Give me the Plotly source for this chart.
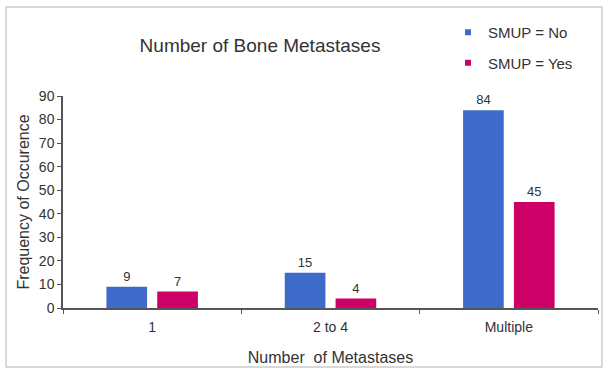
import plotly.graph_objects as go

categories = ["1", "2 to 4", "Multiple"]
smup_no = [9, 15, 84]
smup_yes = [7, 4, 45]
series_names = ["SMUP = No", "SMUP = Yes"]
colors = ["#3E6BC9", "#CC0066"]

W, H = 607, 370
L, R, T, B = 63, 9, 96, 62
pw, ph = W - L - R, H - T - B

def px(x):
    return (x - L) / pw

def py(y):
    return (H - B - y) / ph

fig = go.Figure()
for i, (name, vals) in enumerate(zip(series_names, [smup_no, smup_yes])):
    fig.add_trace(go.Bar(
        x=categories, y=vals, name=name,
        marker=dict(color=colors[i], line=dict(width=0)),
        text=[str(v) for v in vals], textposition="outside",
        textfont=dict(size=13, color="#333333"),
        cliponaxis=False, showlegend=False,
    ))
# legend entries with small square symbols
for i, name in enumerate(series_names):
    fig.add_trace(go.Scatter(
        x=[None], y=[None], mode="markers", name=name,
        marker=dict(symbol="square", size=6, color=colors[i]),
        legendgroup=f"g{i}", showlegend=True,
    ))

fig.update_layout(
    width=W, height=H,
    margin=dict(l=L, r=R, t=T, b=B, autoexpand=False),
    paper_bgcolor="white", plot_bgcolor="white",
    font=dict(family="Liberation Sans, Arial, sans-serif", color="#333333", size=12),
    barmode="group", bargap=0.43, bargroupgap=0.2,
    title=dict(text="Number of Bone Metastases", x=260 / W, xanchor="center",
               y=1 - 45 / H, yanchor="middle", font=dict(size=19, color="#333333")),
    legend=dict(x=px(448), y=py(16), xanchor="left", yanchor="top",
                font=dict(size=15, color="#333333"), tracegroupgap=8,
                bgcolor="rgba(0,0,0,0)", itemwidth=30),
    showlegend=True,
    xaxis=dict(showline=True, linecolor="#555555", linewidth=1.5, automargin=False,
               ticks="outside", tickson="boundaries", ticklen=4, tickcolor="#555555",
               tickfont=dict(size=14, color="#333333"), ticklabelstandoff=5,
               title=dict(text="Number  of Metastases", font=dict(size=16, color="#333333"), standoff=18)),
    yaxis=dict(range=[0, 90], dtick=10, showline=True, linecolor="#555555", linewidth=1.5,
               automargin=False,
               ticks="outside", ticklen=4, tickcolor="#555555", showgrid=False, zeroline=False,
               tickfont=dict(size=14, color="#333333"),
               title=dict(text="Frequency of Occurence", font=dict(size=16, color="#333333"), standoff=5)),
    shapes=[dict(type="rect", xref="paper", yref="paper",
                 x0=px(6), x1=px(602), y0=py(367), y1=py(7),
                 line=dict(color="#CCCCCC", width=1.5), fillcolor="rgba(0,0,0,0)", layer="below")],
)

fig.write_html("out.html")
